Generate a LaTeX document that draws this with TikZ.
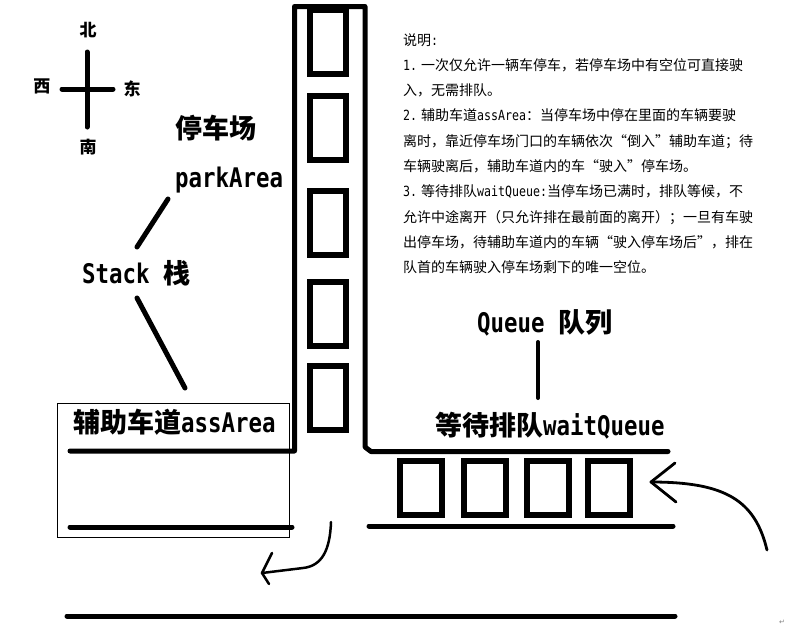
\documentclass[tikz,border=0pt]{standalone}
\usepackage{fontspec}
\newfontfamily\hei{Noto Sans CJK SC}
\newfontfamily\latn[FakeStretch=0.83]{DejaVu Sans Mono}
\newfontfamily\symb{DejaVu Sans}
\begin{document}
\begin{tikzpicture}[x=1pt,y=-1pt,
  wall/.style={line width=5pt,line cap=round,line join=round},
  lead/.style={line width=5pt,line cap=round},
  curvearrow/.style={line width=2.8pt,line cap=round,line join=round},
  slot/.style={draw,line width=6pt,minimum width=36pt,minimum height=64pt,inner sep=0pt},
  qslot/.style={draw,line width=6pt,minimum width=42pt,minimum height=54pt,inner sep=0pt},
  biglabel/.style={font=\bfseries\fontsize{27}{30}\selectfont,inner sep=0pt,anchor=base west},
  compass/.style={font=\hei\bfseries\fontsize{17}{18}\selectfont,inner sep=0pt},
  note/.style={font=\hei\fontsize{14}{16}\selectfont,inner sep=0pt,anchor=base west}]
\useasboundingbox (0,0) rectangle (788,627);

% compass rose
\draw[lead] (87,52) -- (87,127);
\draw[lead] (62,89) -- (113,89);
\node[compass] (north) at (88,30) {北};
\node[compass] (west) at (42,86) {西};
\node[compass] (east) at (132,89) {东};
\node[compass] (south) at (88,147) {南};

% parking tower walls, continuing into the side lanes
\draw[wall] (70,451) -- (294.5,451) -- (294.5,6.5) -- (365,6.5) -- (365,447) -- (371,451.5) -- (668,451.5);

% parking slots
\foreach \yy [count=\i] in {42,128,223,314,398}
  \node[slot] (p\i) at (328,\yy) {};

% auxiliary lane
\draw[line width=1pt] (57,403) rectangle (289,537);
\draw[wall] (70,527) -- (292,527);

% waiting queue lane
\foreach \xx [count=\i] in {421,485,548,609}
  \node[qslot] (q\i) at (\xx,488) {};
\draw[wall] (369,526) -- (673,526);

% exit road
\draw[wall] (67,616) -- (675,616);

% labels
\node[biglabel] (parkcn) at (175,138) {\hei 停车场};
\node[biglabel] (parken) at (175,187) {\latn parkArea};
\node[biglabel] (stack) at (82,283) {{\latn Stack }{\hei 栈}};
\node[biglabel] (assarea) at (73,432) {{\hei 辅助车道}{\latn assArea}};
\node[biglabel] (queue) at (477,332) {{\latn Queue }{\hei 队列}};
\node[biglabel] (waitq) at (435,435) {{\hei 等待排队}{\latn waitQueue}};

% leader lines between labels
\coordinate (l1a) at (168,199);
\coordinate (l1b) at (137,247);
\coordinate (l2a) at (137,298);
\coordinate (l2b) at (185,388);
\coordinate (l3a) at (538,342);
\coordinate (l3b) at (538,398);
\draw[lead] (l1a) -- (l1b);
\draw[lead] (l2a) -- (l2b);
\draw[lead,line width=4pt] (l3a) -- (l3b);

% arriving cars join the queue
\coordinate (inS) at (767,550);
\coordinate (inT) at (651,482);
\draw[curvearrow] (inS) .. controls (755,500) and (725,482) .. (inT);
\draw[curvearrow] (675,463) -- (inT) -- (676,502);

% departing cars leave by the exit road
\coordinate (outS) at (331,522);
\coordinate (outM) at (303,568);
\coordinate (outT) at (262,573);
\draw[curvearrow,line width=2.5pt] (outS) .. controls (330,550) and (322,566) .. (outM) -- (outT);
\draw[curvearrow,line width=2.5pt] (272,553) -- (outT) -- (269,584);

% explanatory notes
\foreach \txt [count=\i from 0] in {
  {说明{\latn :}},
  {{\latn 1.}\kern4pt 一次仅允许一辆车停车，若停车场中有空位可直接驶},
  {入，无需排队。},
  {{\latn 2.}\kern4pt 辅助车道{\latn assArea}：当停车场中停在里面的车辆要驶},
  {离时，靠近停车场门口的车辆依次“倒入”辅助车道；待},
  {车辆驶离后，辅助车道内的车“驶入”停车场。},
  {{\latn 3.}\kern4pt 等待排队{\latn waitQueue:}当停车场已满时，排队等候，不},
  {允许中途离开（只允许排在最前面的离开）；一旦有车驶},
  {出停车场，待辅助车道内的车辆“驶入停车场后”，排在},
  {队首的车辆驶入停车场剩下的唯一空位。}}
  \node[note] (n\i) at (403,{45+25.3*\i}) {\txt};

% return mark
\node[font=\symb\fontsize{7}{8}\selectfont,text=gray,inner sep=0pt] (ret) at (782,622) {↵};
\end{tikzpicture}
\end{document}
